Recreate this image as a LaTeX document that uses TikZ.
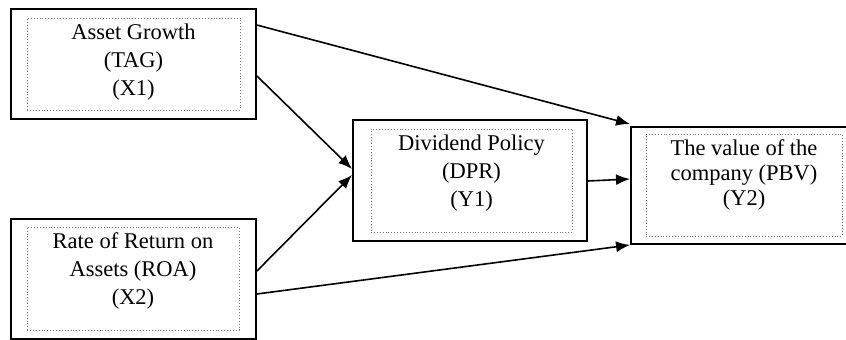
\documentclass[tikz,border=0pt]{standalone}
\usepackage{fontspec}
\setmainfont{Liberation Serif}
\usetikzlibrary{positioning,arrows.meta}

\tikzset{
  outerbox/.style={draw=black,line width=1.9pt,inner sep=0pt},
  innerbox/.style={draw=gray!90!black,dotted,line width=0.9pt,inner sep=0pt},
  boxtext/.style={align=center,inner sep=0pt,font=\fontsize{22.5}{28}\selectfont},
  link/.style={line width=1.6pt,-{Latex[length=14pt,width=11pt]}},
}

\begin{document}
\begin{tikzpicture}[x=1pt,y=1pt]
	\useasboundingbox (0,0) rectangle (846,340);

	% variable X1
	\node[outerbox,minimum width=245,minimum height=110] (x1) at (133.5,276) {};
	\node[innerbox,minimum width=213,minimum height=92] (x1in) at (133.5,276) {};
	\node[boxtext,below=6pt of x1in.north] (x1txt) {Asset Growth\\(TAG)\\(X1)};

	% variable X2
	\node[outerbox,minimum width=245,minimum height=120] (x2) at (133.5,61) {};
	\node[innerbox,minimum width=212,minimum height=103] (x2in) at (133,61.5) {};
	\node[boxtext,below=6pt of x2in.north] (x2txt) {Rate of Return on\\Assets (ROA)\\(X2)};

	% variable Y1
	\node[outerbox,minimum width=234,minimum height=121] (y1) at (470,159.5) {};
	\node[innerbox,minimum width=201,minimum height=103] (y1in) at (471.5,159.5) {};
	\node[boxtext,below=6pt of y1in.north] (y1txt) {Dividend Policy\\(DPR)\\(Y1)};

	% variable Y2
	\node[outerbox,minimum width=219,minimum height=117] (y2) at (740.5,154.5) {};
	\node[innerbox,minimum width=196,minimum height=102] (y2in) at (744,155) {};
	\node[boxtext,font=\fontsize{22.5}{25}\selectfont,below=6pt of y2in.north] (y2txt) {The value of the\\company (PBV)\\(Y2)};

	% paths
	\draw[link] ([yshift=-17]x1.north east) -- ([yshift=2]y2.north west);
	\draw[link] ([yshift=-12]x1.east) -- ([yshift=11.5]y1.west);
	\draw[link] ([yshift=8]x2.east) -- ([yshift=5.5]y1.west);
	\draw[link] ([yshift=-15]x2.east) -- (y2.south west);
	\draw[link] ([yshift=-0.5]y1.east) -- ([yshift=6.5]y2.west);

\end{tikzpicture}
\end{document}
